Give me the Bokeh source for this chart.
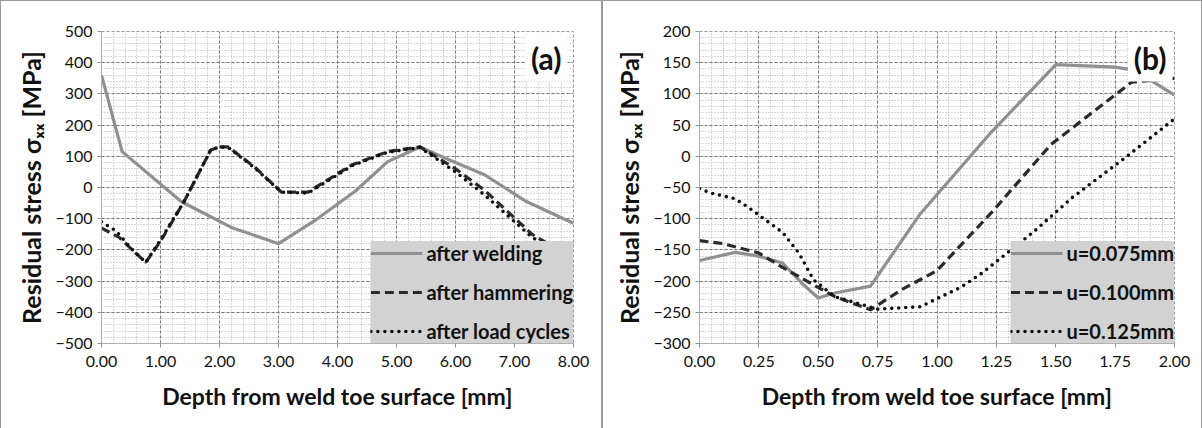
from bokeh.plotting import figure
from bokeh.layouts import row
from bokeh.models import SingleIntervalTicker, PrintfTickFormatter, Label, Legend, LegendItem
from bokeh.embed import file_html
from bokeh.resources import INLINE

# ---------------- Panel (a) data ----------------
weld_x = [0.00, 0.35, 1.35, 2.20, 3.00, 3.60, 4.30, 4.85, 5.40, 5.80, 6.50, 7.20, 8.00]
weld_y = [360, 115, -45, -128, -180, -108, -12, 83, 130, 96, 40, -45, -115]

hammer_x = [0.00, 0.30, 0.55, 0.75, 1.00, 1.40, 1.85, 2.00, 2.15, 2.60, 3.05, 3.50, 4.25, 4.85, 5.40, 6.00, 6.50, 7.30, 8.00]
hammer_y = [-130, -160, -205, -240, -172, -45, 120, 130, 130, 65, -15, -15, 73, 115, 130, 60, -10, -150, -230]

load_x = [0.00, 0.25, 0.50, 0.75, 1.00, 1.40, 1.85, 2.00, 2.15, 2.60, 3.05, 3.50, 4.25, 4.85, 5.40, 6.00, 6.50, 7.30, 8.00]
load_y = [-110, -140, -195, -240, -168, -45, 120, 130, 128, 62, -15, -18, 70, 113, 128, 50, -25, -160, -235]

labels_a = ["after welding", "after hammering", "after load cycles"]

# ---------------- Panel (b) data ----------------
u075_x = [0.00, 0.15, 0.25, 0.35, 0.43, 0.50, 0.57, 0.72, 0.93, 1.22, 1.50, 1.75, 1.83, 2.00]
u075_y = [-167, -154, -160, -171, -203, -227, -219, -208, -92, 35, 147, 143, 138, 98]

u100_x = [0.00, 0.10, 0.25, 0.35, 0.48, 0.57, 0.72, 0.85, 1.00, 1.23, 1.48, 1.82, 1.97, 2.00]
u100_y = [-135, -140, -155, -178, -206, -225, -246, -214, -183, -90, 19, 119, 124, 125]

u125_x = [0.00, 0.05, 0.15, 0.21, 0.26, 0.35, 0.42, 0.48, 0.57, 0.75, 0.93, 1.10, 1.19, 1.41, 1.57, 1.80, 2.00]
u125_y = [-52, -59, -68, -83, -97, -122, -156, -198, -225, -245, -241, -210, -187, -120, -66, 0, 60]

labels_b = ["u=0.075mm", "u=0.100mm", "u=0.125mm"]

FONT = "Lato"
X_TITLE = "Depth from weld toe surface [mm]"
Y_TITLE = "Residual stress σₓₓ [MPa]"


def make_fig(width, left, right, top, bottom, xr, yr, xint, yint, fmt):
    p = figure(width=width, height=428, x_range=xr, y_range=yr,
               output_backend="svg", toolbar_location=None,
               min_border_left=left, min_border_right=right,
               min_border_top=top, min_border_bottom=bottom,
               background_fill_color="white", border_fill_color="white")
    p.outline_line_color = "#9a9a9a"
    p.outline_line_dash = "3 2"
    p.xaxis.ticker = SingleIntervalTicker(interval=xint, num_minor_ticks=5)
    p.yaxis.ticker = SingleIntervalTicker(interval=yint, num_minor_ticks=5)
    p.xaxis.formatter = PrintfTickFormatter(format=fmt)
    for ax in (p.xaxis[0], p.yaxis[0]):
        ax.axis_line_color = "#b0b0b0"
        ax.major_tick_line_color = "#909090"
        ax.major_tick_out = 4
        ax.major_tick_in = 0
        ax.minor_tick_line_color = None
        ax.major_label_text_font = FONT
        ax.major_label_text_font_size = "16px"
        ax.major_label_text_color = "#111111"
        ax.axis_label_text_font = FONT
        ax.axis_label_text_font_style = "bold"
        ax.axis_label_text_color = "#111111"
    p.xaxis.axis_label = X_TITLE
    p.yaxis.axis_label = Y_TITLE
    p.xaxis.axis_label_text_font_size = "23px"
    p.yaxis.axis_label_text_font_size = "25px"
    p.xaxis.axis_label_standoff = 12
    p.yaxis.axis_label_standoff = 6
    p.xaxis.major_label_standoff = 8
    for g in (p.xgrid[0], p.ygrid[0]):
        g.grid_line_color = "#7a7a7a"
        g.grid_line_dash = "3 2"
        g.grid_line_width = 1
        g.minor_grid_line_color = "#b0b0b0"
        g.minor_grid_line_dash = "1 2"
    p.styles = {"border-top": "1px solid #9a9a9a", "border-left": "1px solid #9a9a9a",
                "border-right": "1px solid #9a9a9a"}
    return p


def add_series(p, xs, ys, labels):
    r1 = p.line(xs[0], ys[0], line_color="#909090", line_width=3.2)
    r2 = p.line(xs[1], ys[1], line_color="#2a2a2a", line_width=3.2, line_dash="9 5")
    r3 = p.line(xs[2], ys[2], line_color="#111111", line_width=3.6, line_dash="0 7",
                line_cap="round")
    legend = Legend(items=[LegendItem(label=labels[0], renderers=[r1]),
                           LegendItem(label=labels[1], renderers=[r2]),
                           LegendItem(label=labels[2], renderers=[r3])],
                    location="bottom_right")
    legend.background_fill_color = "#d2d2d2"
    legend.background_fill_alpha = 1.0
    legend.border_line_color = None
    legend.margin = 0
    legend.padding = 12
    legend.spacing = 15
    legend.glyph_width = 52
    legend.glyph_height = 20
    legend.label_height = 20
    legend.label_standoff = 4
    legend.label_text_font = FONT
    legend.label_text_font_style = "bold"
    legend.label_text_font_size = "20px"
    legend.label_text_color = "#111111"
    p.add_layout(legend, "center")


pa = make_fig(602, 100, 30, 29, 86, (0, 8), (-500, 500), 1, 100, "%.2f")
add_series(pa, [weld_x, hammer_x, load_x], [weld_y, hammer_y, load_y], labels_a)
pa.add_layout(Label(x=8, y=500, text="(a)", text_align="right", text_baseline="top",
                    x_offset=-6, y_offset=-2, text_font=FONT, text_font_style="bold",
                    text_font_size="30px", text_color="#111111",
                    background_fill_color="white", padding=6))

pb = make_fig(600, 96, 29, 30, 83, (0, 2), (-300, 200), 0.25, 50, "%.2f")
add_series(pb, [u075_x, u100_x, u125_x], [u075_y, u100_y, u125_y], labels_b)
pb.add_layout(Label(x=2, y=200, text="(b)", text_align="right", text_baseline="top",
                    x_offset=-2, y_offset=-2, text_font=FONT, text_font_style="bold",
                    text_font_size="30px", text_color="#111111",
                    background_fill_color="white", padding=6))

layout = row(pa, pb)
with open("out.html", "w") as f:
    f.write(file_html(layout, INLINE))
